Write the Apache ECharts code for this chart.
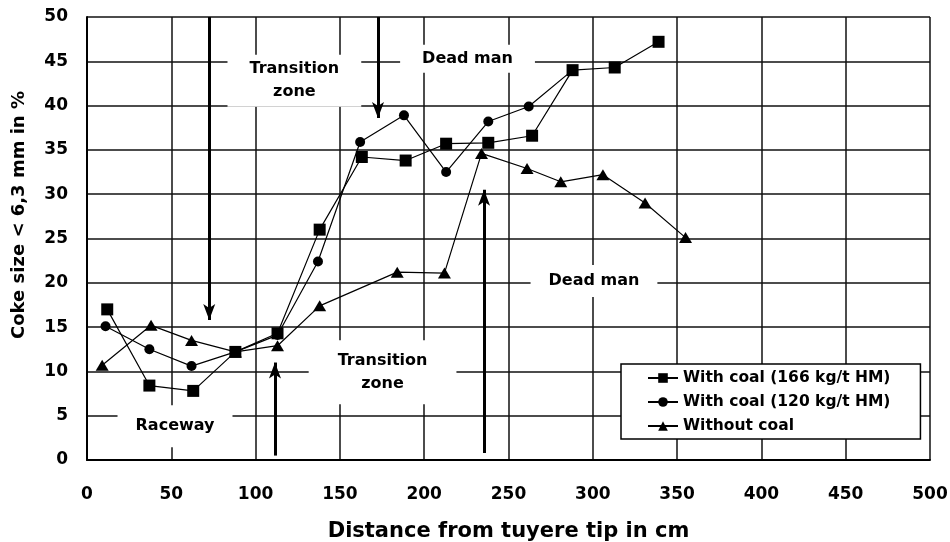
<!DOCTYPE html>
<html>
<head>
<meta charset="utf-8">
<script src="https://cdn.jsdelivr.net/npm/echarts@6/dist/echarts.min.js"></script>
<style>html,body{margin:0;padding:0;background:#fff;}#c{width:950px;height:542px;}</style>
</head>
<body>
<div id="c"></div>
<script>
// ---- data ----
var seriesNames = ['With coal (166 kg/t HM)', 'With coal (120 kg/t HM)', 'Without coal'];
var coal166X = [12, 37, 63, 88, 113, 138, 163, 189, 213, 238, 264, 288, 313, 339];
var coal166Y = [17, 8.4, 7.8, 12.2, 14.3, 26, 34.2, 33.8, 35.7, 35.8, 36.6, 44, 44.3, 47.2];
var coal120X = [11, 37, 62, 88, 113, 137, 162, 188, 213, 238, 262, 288];
var coal120Y = [15.1, 12.5, 10.6, 12.2, 14.1, 22.4, 35.9, 38.9, 32.5, 38.2, 39.9, 44];
var noCoalX = [9, 38, 62, 88, 113, 138, 184, 212, 234, 261, 281, 306, 331, 355];
var noCoalY = [10.7, 15.2, 13.5, 12.2, 12.9, 17.4, 21.2, 21.1, 34.6, 32.9, 31.4, 32.2, 29, 25.1];

var annoText = ['Transition\nzone', 'Dead man', 'Dead man', 'Transition\nzone', 'Raceway'];
var annoX = [123, 225.7, 300.7, 175.3, 52.2];
var annoY = [42.8, 45.3, 20.2, 9.9, 3.8];

var arrowX = [72.5, 172.6, 111.5, 235.5];
var arrowFrom = [50, 50, 0.5, 0.8];
var arrowTo = [15.8, 38.6, 11, 30.5];

var xTicks = [0, 50, 100, 150, 200, 250, 300, 350, 400, 450, 500];
var yTicks = [0, 5, 10, 15, 20, 25, 30, 35, 40, 45, 50];

// ---- styles ----
var FONT = 'DejaVu Sans';
var annoPad = [[3, 22], [4, 22], [6, 18], [9, 29], [11, 18]];

function pairs(xs, ys) { return xs.map(function (x, i) { return [x, ys[i]]; }); }

var annoData = annoText.map(function (t, i) {
  return {
    value: [annoX[i], annoY[i]],
    label: {
      show: true, position: 'inside', formatter: t,
      backgroundColor: '#fff', padding: annoPad[i],
      color: '#000', fontFamily: FONT, fontWeight: 'bold', fontSize: 16,
      lineHeight: t.indexOf('\n') >= 0 ? 23 : 20, align: 'center'
    }
  };
});

var arrowData = arrowX.map(function (x, i) {
  return [{ coord: [x, arrowFrom[i]] }, { coord: [x, arrowTo[i]] }];
});

var lineStyle = { color: '#000', width: 1.2 };
var itemStyle = { color: '#000', opacity: 1 };

var chart = echarts.init(document.getElementById('c'), null, { renderer: 'canvas' });
chart.setOption({
  animation: false,
  backgroundColor: '#fff',
  grid: { left: 87, right: 20, top: 17, bottom: 82, containLabel: false, outerBoundsMode: 'none' },
  xAxis: {
    type: 'value', min: xTicks[0], max: xTicks[xTicks.length - 1], interval: 50,
    name: 'Distance from tuyere tip in cm', nameLocation: 'middle', nameGap: 61,
    nameTextStyle: { fontFamily: FONT, fontWeight: 'bold', fontSize: 21, color: '#000' },
    axisLine: { show: true, lineStyle: { color: '#000', width: 2 } },
    axisTick: { show: false },
    axisLabel: { margin: 26, fontFamily: FONT, fontWeight: 'bold', fontSize: 17, color: '#000' },
    splitLine: { show: true, lineStyle: { color: '#111', width: 1.5 } }
  },
  yAxis: {
    type: 'value', min: yTicks[0], max: yTicks[yTicks.length - 1], interval: 5,
    axisLine: { show: true, lineStyle: { color: '#000', width: 2 } },
    axisTick: { show: false },
    axisLabel: { margin: 19, fontFamily: FONT, fontWeight: 'bold', fontSize: 17, color: '#000' },
    splitLine: { show: true, lineStyle: { color: '#111', width: 1.5 } }
  },
  graphic: [{
    type: 'text', x: 19, y: 215, rotation: Math.PI / 2,
    style: {
      text: 'Coke size < 6,3 mm in %', fill: '#000',
      font: 'bold 18px "DejaVu Sans"', textAlign: 'center', textVerticalAlign: 'middle'
    }
  }],
  legend: {
    data: seriesNames, orient: 'vertical', left: 621, top: 364,
    padding: [6, 30, 5, 26], itemGap: 8, itemWidth: 30, itemHeight: 12,
    backgroundColor: '#fff', borderColor: '#000', borderWidth: 1.5,
    textStyle: { fontFamily: FONT, fontWeight: 'bold', fontSize: 15.5, color: '#000' },
    z: 10
  },
  series: [
    {
      name: 'annotations', type: 'scatter', symbolSize: 0, silent: true, z: 1,
      itemStyle: { opacity: 1 },
      data: annoData,
      markLine: {
        silent: true, symbol: ['none', 'arrow'], symbolSize: [9, 16],
        lineStyle: { color: '#000', width: 3, type: 'solid', opacity: 1 },
        label: { show: false },
        data: arrowData
      }
    },
    {
      name: seriesNames[0], type: 'line', data: pairs(coal166X, coal166Y),
      symbol: 'rect', symbolSize: 12, lineStyle: lineStyle, itemStyle: itemStyle, z: 4
    },
    {
      name: seriesNames[1], type: 'line', data: pairs(coal120X, coal120Y),
      symbol: 'circle', symbolSize: 10, lineStyle: lineStyle, itemStyle: itemStyle, z: 3
    },
    {
      name: seriesNames[2], type: 'line', data: pairs(noCoalX, noCoalY),
      symbol: 'triangle', symbolSize: [13, 11], lineStyle: lineStyle, itemStyle: itemStyle, z: 3
    }
  ]
});
</script>
</body>
</html>
